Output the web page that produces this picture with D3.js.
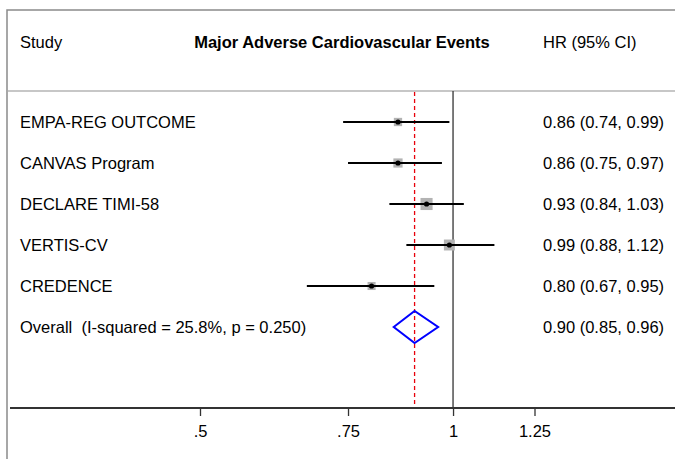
<!DOCTYPE html>
<html lang="en">
<meta charset="UTF-8">
<title>Forest plot: MACE</title>
<script src="https://d3js.org/d3.v7.min.js"></script>
<style>
body { margin: 0; background: #fff; }
text { font-family: "Liberation Sans", Arial, sans-serif; font-size: 16.5px; fill: #000; white-space: pre; }
</style>
<body>
<div id="my_dataviz"></div>
<script>
// study data
var studies = ["EMPA-REG OUTCOME", "CANVAS Program", "DECLARE TIMI-58", "VERTIS-CV", "CREDENCE"];
var hr    = [0.86, 0.86, 0.93, 0.99, 0.80];
var lower = [0.74, 0.75, 0.84, 0.88, 0.67];
var upper = [0.99, 0.97, 1.03, 1.12, 0.95];
var weights = [14.2, 17.5, 30.1, 24.8, 13.4];
var overallLabel = "Overall  (I-squared = 25.8%, p = 0.250)";
var overall = [0.90, 0.85, 0.96];               // hr, lower, upper
var tickValues = [0.5, 0.75, 1, 1.25];
var tickLabels = [".5", ".75", "1", "1.25"];

var width = 675, height = 459;

var svg = d3.select("#my_dataviz")
  .append("svg")
    .attr("width", width)
    .attr("height", height);

// log scale on HR
var x = d3.scaleLog()
  .domain([0.5, 1.25])
  .range([200, 534.5]);

var rows = studies.concat(["__overall"]);
var y = d3.scalePoint()
  .domain(rows)
  .range([122, 327]);

// outer frame (runs off the right and bottom)
svg.append("rect")
  .attr("x", 7).attr("y", 10)
  .attr("width", 700).attr("height", 480)
  .attr("fill", "none")
  .attr("stroke", "#8a8a8a")
  .attr("stroke-width", 1.5);

// header
svg.append("text").attr("x", 20).attr("y", 48).text("Study");
svg.append("text").attr("x", 342).attr("y", 48)
  .attr("text-anchor", "middle")
  .style("font-weight", "bold")
  .text("Major Adverse Cardiovascular Events");
svg.append("text").attr("x", 543).attr("y", 48).text("HR (95% CI)");

// header separator
svg.append("line")
  .attr("x1", 8).attr("x2", width)
  .attr("y1", 91).attr("y2", 91)
  .attr("stroke", "#b4b4b4")
  .attr("stroke-width", 1.5);

// null line at 1
svg.append("line")
  .attr("x1", x(1)).attr("x2", x(1))
  .attr("y1", 91).attr("y2", 408)
  .attr("stroke", "#333")
  .attr("stroke-width", 1.3);

// overall effect dashed line
svg.append("line")
  .attr("x1", x(overall[0])).attr("x2", x(overall[0]))
  .attr("y1", 92).attr("y2", 408)
  .attr("stroke", "#e8000b")
  .attr("stroke-width", 1.3)
  .attr("stroke-dasharray", "4,3");

// x axis
var axis = svg.append("g")
  .attr("transform", "translate(0,408)")
  .call(d3.axisBottom(x)
    .tickValues(tickValues)
    .tickFormat(function(d, i) { return tickLabels[i]; })
    .tickSize(8)
    .tickPadding(9));
axis.select(".domain").remove();
axis.selectAll(".tick line").attr("stroke", "#333").attr("stroke-width", 1.3);
axis.selectAll("text").attr("font-family", null).attr("font-size", null).attr("fill", "#000");
svg.append("line")
  .attr("x1", 10).attr("x2", width)
  .attr("y1", 408).attr("y2", 408)
  .attr("stroke", "#333")
  .attr("stroke-width", 2);

// study rows
var data = studies.map(function(s, i) {
  return {study: s, hr: hr[i], lo: lower[i], hi: upper[i], w: weights[i]};
});

var fmt = d3.format(".2f");

var row = svg.selectAll(".row")
  .data(data)
  .enter().append("g")
    .attr("class", "row")
    .attr("transform", function(d) { return "translate(0," + y(d.study) + ")"; });

row.append("text")
  .attr("x", 20).attr("y", 6)
  .text(function(d) { return d.study; });

row.append("rect")
  .attr("x", function(d) { return x(d.hr) - Math.sqrt(d.w) * 1.1; })
  .attr("y", function(d) { return -Math.sqrt(d.w) * 1.1; })
  .attr("width", function(d) { return Math.sqrt(d.w) * 2.2; })
  .attr("height", function(d) { return Math.sqrt(d.w) * 2.2; })
  .attr("fill", "#b3b3b3");

row.append("line")
  .attr("x1", function(d) { return x(d.lo); })
  .attr("x2", function(d) { return x(d.hi); })
  .attr("y1", 0).attr("y2", 0)
  .attr("stroke", "#000")
  .attr("stroke-width", 2);

row.append("circle")
  .attr("cx", function(d) { return x(d.hr); })
  .attr("cy", 0)
  .attr("r", 2.6)
  .attr("fill", "#000");

row.append("text")
  .attr("x", 543).attr("y", 6)
  .text(function(d) { return fmt(d.hr) + " (" + fmt(d.lo) + ", " + fmt(d.hi) + ")"; });

// overall row
var yo = y("__overall");
svg.append("text").attr("x", 20).attr("y", yo + 6).text(overallLabel);
svg.append("path")
  .attr("d", "M" + x(overall[1]) + "," + yo +
             "L" + x(overall[0]) + "," + (yo - 16) +
             "L" + x(overall[2]) + "," + yo +
             "L" + x(overall[0]) + "," + (yo + 16) + "Z")
  .attr("fill", "none")
  .attr("stroke", "#0000ff")
  .attr("stroke-width", 2);
svg.append("text").attr("x", 543).attr("y", yo + 6)
  .text(fmt(overall[0]) + " (" + fmt(overall[1]) + ", " + fmt(overall[2]) + ")");
</script>
</body>
</html>
